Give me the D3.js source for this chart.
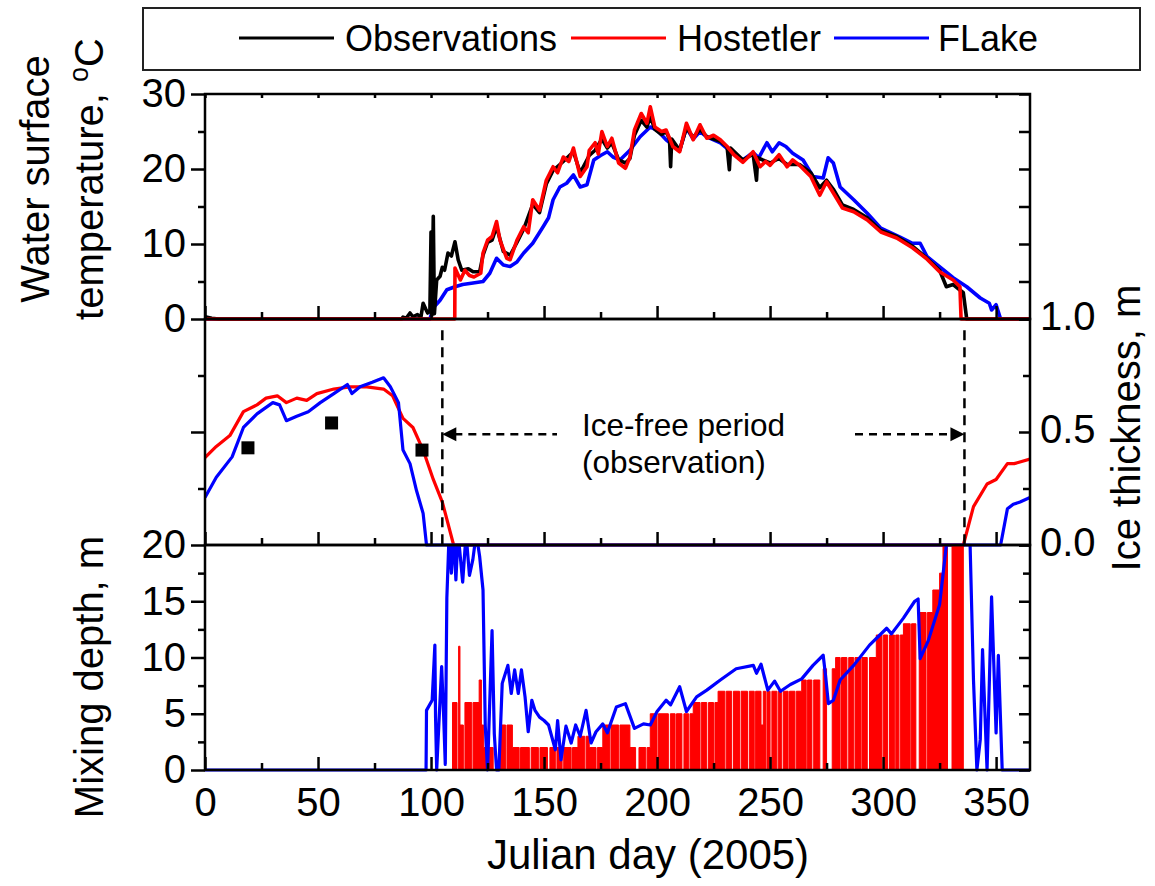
<!DOCTYPE html>
<html>
<head>
<meta charset="utf-8">
<script src="https://cdn.jsdelivr.net/npm/d3@7"></script>
<style>
  body { margin: 0; background: #fff; }
  svg text { font-family: "Liberation Sans", Arial, Helvetica, sans-serif; fill: #000; }
</style>
</head>
<body>
<svg id="chart" width="1155" height="886"></svg>
<script>
// ---- data: [julian day, value] ----
const seriesNames = ["Observations", "Hostetler", "FLake"];
const seriesColors = ["#000000", "#ff0000", "#0000ff"];

// water surface temperature, degC
const obsTemp = [[0,0.3],[3,0.1],[6,0],[87,0],[87.6,0.25],[89,0.1],[90.7,0.8],[92,0.3],[94,0.6],[95.5,0.2],
  [96.5,2.1],[97.7,1.3],[98.5,0.8],[99.5,1.0],[100,11.6],[100.4,0.5],[101,13.7],[101.5,0.7],[102.5,5.2],
  [104,5.7],[105,6.9],[106,6.5],[107.5,8.8],[109,8.4],[110.6,10.3],[112,7.9],[113.6,6.5],[116.5,6.7],
  [118.6,6.3],[121.5,6.3],[123,8.5],[125,10.2],[127,10.5],[129,12.3],[132,9],[135,8.5],[138,10.2],
  [141,12],[145,15.3],[148,14.2],[151,18],[154,19.8],[158.5,21],[163,22.3],[166,19.5],[170,21.8],
  [172.6,22.5],[175.6,24],[178,22.8],[180,23.5],[183,21.2],[186,20.8],[188,21.4],[190,24.5],[193,26.5],
  [195.5,25.6],[197,27],[199,25.3],[202,24.6],[204,25],[205.5,24],[206,20.3],[206.5,24],[210,22.5],
  [213,25.5],[216,24.2],[219,25.3],[222,24.3],[228,23.7],[231,22.9],[232,19.9],[232.5,22.8],[238,21.2],
  [242.5,22],[244,18.5],[244.5,21.5],[250,20.8],[254,21.4],[257.5,20.6],[263,20.6],[268,19.5],[272,17.5],
  [275,18.5],[278,17.3],[282,15.2],[287,14.6],[293,13.5],[299,11.8],[306,11],[313,9.7],[319,8.2],
  [325,6.5],[328,4.3],[331,4.6],[335.5,3.5],[337,0],[365,0]];

const hostTemp = [[0,0],[110.5,0],[110.6,6.8],[113,5.2],[115,6.5],[117,5.8],[119,5.6],[122,6.1],[123,8.8],
  [125,10.5],[127,11],[129,13],[130.5,10.5],[133.5,8.1],[135,7.9],[138,10.5],[141,12.3],[143,11.5],
  [145,15.9],[148,14.5],[151,18.5],[154,20.3],[156,19.5],[158.5,21.6],[161,21],[163,22.8],[166,19],
  [169,20.3],[170,22.5],[172.6,23.5],[174,22],[175.6,25],[178,23],[180,24.1],[183,20.8],[186,20.1],
  [188,21.6],[190,25.2],[193,27.4],[195.5,26.1],[197,28.3],[199,25.6],[202,25],[204,25.2],[207,23],
  [210,22.3],[213,26.1],[216,23.9],[219,25.9],[222,24.1],[225,24.5],[228,23.9],[231,23],[234,21.9],
  [238,20.9],[240,21.5],[242.5,22.3],[245.6,20.3],[248,21],[250,20.5],[254,21.9],[257.5,20.3],[260,21.2],
  [263,20.5],[268,19],[272,16.5],[275,18.3],[278,16.8],[282,14.8],[287,14.3],[293,13.2],[299,11.6],
  [306,10.8],[313,9.5],[319,8.1],[325,6.3],[331,5.2],[334,4.3],[334.5,0],[365,0]];

const flakeTemp = [[0,0],[99.5,0],[101,1.5],[104,2.5],[107,3.9],[110.6,4.3],[114,4.6],[118.6,4.8],[123,5],
  [126,6.1],[129,8.1],[132,7.2],[135,7],[138,7.6],[141,8.8],[145,10.1],[149.6,12.3],[152,13.5],[154,15.9],
  [157,17.6],[160,18.1],[163,19.2],[166,17.6],[169,17.9],[172,21.2],[175,21.8],[178,22.3],[180.5,21.6],
  [183.6,21.2],[188,22.5],[192.5,24.3],[197,25.6],[200,25.2],[204,23.9],[207,23.2],[210,22.5],[213,25.5],
  [216,24],[219,25],[222,24.3],[228,23.5],[234,22],[238,21.2],[242.5,22.2],[245,21.5],[248.6,23.5],
  [251,22.3],[254,23.5],[257,23],[260,22.1],[264.6,21.2],[269,19],[273.5,18.8],[275.7,21.5],[278,20.8],
  [281,17.6],[287,15.9],[293,14.1],[299,12.1],[307.5,10.9],[313,10.1],[316.4,10.1],[319.5,8.3],[324,7.2],
  [331,5.5],[337,4.3],[343,2.8],[347,2.1],[348,1.2],[350,1.9],[352,0],[365,0]];

// ice thickness, m
const hostIce = [[0,0.387],[5,0.436],[11,0.484],[17,0.59],[23,0.62],[27,0.65],[32,0.66],[36,0.63],[40.6,0.65],
  [45,0.64],[49.5,0.67],[57,0.69],[64,0.70],[71.6,0.70],[79,0.69],[83,0.66],[87.6,0.56],[92,0.52],
  [96.5,0.42],[101,0.29],[105,0.19],[110,0],[335.5,0],[340,0.17],[346,0.27],[350,0.29],[355,0.36],
  [358,0.36],[365,0.38]];
const flakeIce = [[0,0.21],[5,0.30],[12,0.39],[17,0.52],[23,0.58],[30,0.63],[33,0.62],[36,0.55],[40.6,0.57],
  [45.7,0.59],[51,0.63],[57,0.67],[63,0.71],[65,0.67],[68.6,0.70],[74,0.72],[79,0.74],[82,0.70],[85.6,0.63],
  [87.6,0.42],[90.7,0.36],[93.6,0.24],[96.5,0.14],[98,0],[352,0],[355,0.16],[357.6,0.18],[360.6,0.19],
  [365,0.21]];
const obsIce = [[19,0.43],[56,0.54],[96,0.42]];

// observed ice-free period (days)
const iceOffDay = 105;
const iceOnDay = 336;

// mixing depth, m (Hostetler: step levels from each day on, 0 = short breaks)
const hostMix = [[0,0],[109.5,6],[111.5,0],[112.2,11],[112.8,4],[114.3,0],[115,6],[118,0],[118.6,6],
  [121.3,8],[122.3,4],[123.3,2],[125,0],[125.7,2],[127.5,0],[130.5,4],[133,0],[133.6,4],[136,2],[139,0],
  [139.6,2],[143.5,0],[144.3,2],[147.5,0],[148.2,2],[151.5,0],[152.6,2],[155,0],[155.7,2],[158,0],
  [158.7,2],[162,0],[162.6,2],[165,3],[168,0],[168.6,3],[170,2],[173,0],[173.6,2],[176,4],[179,0],
  [179.6,4],[183,0],[183.6,4],[188,2],[190.5,0],[192,2],[195,0],[195.6,2],[197,5],[200,0],[200.6,5],
  [205,0],[205.9,5],[208,0],[208.6,5],[211,0],[211.9,5],[214,0],[214.6,5],[216,6],[219,0],[219.6,6],
  [222,0],[222.8,6],[225,0],[225.6,6],[227,7],[230,0],[230.6,7],[233,0],[233.8,7],[236.5,0],[237.2,7],
  [240,0],[240.8,7],[243,0],[243.6,7],[246,4],[247,7],[248,0],[248.6,7],[250,0],[250.8,7],[253,0],
  [253.6,7],[255,0],[255.8,7],[258,0],[258.6,7],[261,0],[261.6,7],[264,8],[266,0],[266.6,8],[268.5,0],
  [269.3,8],[272,0],[273.5,9],[275,0],[277.5,9],[279,10],[281,0],[281.6,10],[284,0],[284.8,10],[287,0],
  [287.6,10],[290,0],[290.6,10],[293,0],[294,10],[297,12],[299.5,0],[300.1,12],[302,0],[302.8,12],
  [305,0],[305.6,12],[307,0],[307.6,12],[309,13],[312,0],[312.6,13],[314.5,0],[316,14],[319,0],
  [319.6,14],[322,16],[325,17.5],[326.5,25],[328.5,0],[330.5,25],[335.5,0],[365,0]];

const flakeMix = [[0,0],[97.8,0],[98,5.3],[100.5,6.2],[101.7,11.1],[102,4.7],[102.5,0],[104.7,9.2],
  [105.6,4.7],[106.3,0.5],[107,15.3],[108,21],[109,17.5],[110,21],[111,16.9],[112,21],[114,16.7],
  [115.5,21],[117,17.3],[118.5,18.7],[120,21],[121.5,19],[123,16],[124,3.9],[125,0],[127,12.4],[128,3.2],
  [129,0],[130,0],[131.5,7.7],[134,9.3],[135.5,6.8],[137,8.9],[138.6,6.8],[140,8.9],[141.6,6.5],[143,3.4],
  [144.6,6.2],[146,5.3],[148,4.7],[150,4.4],[152,4],[155,1.8],[156,4.4],[157.5,0.9],[159.7,3.9],[162,2.4],
  [164,4],[166,3],[168.6,5.3],[170.8,2.4],[173,3.4],[176,4.1],[178,3.3],[182,5.6],[186,5.9],[190,3.7],
  [194,4.1],[197,4.0],[200,5.2],[204,6.2],[206,5.8],[210,7.4],[213,5.2],[217.5,6.5],[222,7.1],[228,8],
  [235,9],[242.6,9.3],[244,8.6],[246,9.4],[249,7.1],[252,7.9],[254.6,7],[259,7.6],[264,8.1],[269,9.3],
  [273.5,10.2],[274.6,8.3],[275.8,5.9],[278,6.2],[281,8],[287,9.3],[294,11.1],[301.6,12.6],[303.7,12.1],
  [309,13.5],[314,15],[315.5,15.2],[316.4,9.9],[320,11.5],[325,14.7],[328,20],[332,25],[338.5,20],[340,8],
  [341.5,0],[343,2.7],[344,10.7],[346,0],[348,15.4],[350,3.3],[351,10.2],[352.7,0],[365,0]];

// tick values
const dayMajor = [0, 50, 100, 150, 200, 250, 300, 350];
const dayMinor = [25, 75, 125, 175, 225, 275, 325];
const tempMajor = [0, 10, 20, 30];
const tempMinor = [5, 15, 25];
const iceMajor = [0, 0.5, 1.0];
const iceMinor = [0.25, 0.75];
const mixMajor = [0, 5, 10, 15, 20];
const mixMinor = [2.5, 7.5, 12.5, 17.5];

// ---- layout ----
const svg = d3.select("#chart");
const x = d3.scaleLinear().domain([0, 365]).range([205, 1030]);
const yTemp = d3.scaleLinear().domain([0, 30]).range([319, 94]);
const yIce = d3.scaleLinear().domain([0, 1]).range([545, 319]);
const yMix = d3.scaleLinear().domain([0, 20]).range([770, 545]);
const x0 = x.range()[0], x1 = x.range()[1];

// clip regions per panel
const defs = svg.append("defs");
[["clipTop", yTemp], ["clipMid", yIce], ["clipBot", yMix]].forEach(([id, sc]) => {
  defs.append("clipPath").attr("id", id).append("rect")
    .attr("x", x0).attr("y", sc.range()[1])
    .attr("width", x1 - x0).attr("height", sc.range()[0] - sc.range()[1] + 2);
});

function line(sc) {
  return d3.line().x(d => x(d[0])).y(d => sc(d[1]));
}

// ---- top panel: temperature ----
const gTop = svg.append("g").attr("clip-path", "url(#clipTop)");
[[flakeTemp, 2], [obsTemp, 0], [hostTemp, 1]].forEach(([data, i]) => {
  gTop.append("path").datum(data).attr("d", line(yTemp))
    .attr("fill", "none").attr("stroke", seriesColors[i]).attr("stroke-width", 3.6)
    .attr("stroke-linejoin", "round");
});

// ---- middle panel: ice thickness ----
const gMid = svg.append("g").attr("clip-path", "url(#clipMid)");
[[hostIce, 1], [flakeIce, 2]].forEach(([data, i]) => {
  gMid.append("path").datum(data).attr("d", line(yIce))
    .attr("fill", "none").attr("stroke", seriesColors[i]).attr("stroke-width", 3.2)
    .attr("stroke-linejoin", "round");
});
gMid.selectAll("rect.obs").data(obsIce).enter().append("rect")
  .attr("class", "obs")
  .attr("x", d => x(d[0]) - 6.5).attr("y", d => yIce(d[1]) - 6.5)
  .attr("width", 13).attr("height", 13).attr("fill", "#000");

// ---- bottom panel: mixing depth ----
const gBot = svg.append("g").attr("clip-path", "url(#clipBot)");
gBot.append("path").datum(hostMix)
  .attr("d", d3.area().curve(d3.curveStepAfter).x(d => x(d[0])).y0(yMix(0)).y1(d => yMix(d[1])))
  .attr("fill", seriesColors[1]);
gBot.append("path").datum(hostMix)
  .attr("d", d3.line().curve(d3.curveStepAfter).x(d => x(d[0])).y(d => yMix(d[1])))
  .attr("fill", "none").attr("stroke", seriesColors[1]).attr("stroke-width", 1);
gBot.append("path").datum(flakeMix).attr("d", line(yMix))
  .attr("fill", "none").attr("stroke", seriesColors[2]).attr("stroke-width", 3.2)
  .attr("stroke-linejoin", "round");

// ---- frames ----
[yTemp, yIce, yMix].forEach(sc => {
  svg.append("rect").attr("x", x0).attr("y", sc.range()[1])
    .attr("width", x1 - x0).attr("height", sc.range()[0] - sc.range()[1])
    .attr("fill", "none").attr("stroke", "#000").attr("stroke-width", 2.5);
});

// ---- ticks ----
function tickSet(axisFn, scale, values, size, translate, labels, fmt) {
  const ax = axisFn(scale).tickValues(values).tickSizeInner(size).tickSizeOuter(0);
  ax.tickFormat(labels ? (fmt || d3.format("d")) : "");
  const g = svg.append("g").attr("transform", translate).call(ax);
  g.select(".domain").remove();
  g.selectAll("line").attr("stroke", "#000").attr("stroke-width", 2.5);
  g.attr("font-family", null).attr("font-size", null);
  g.selectAll("text").style("font-size", "40px");
  return g;
}

// x ticks
tickSet(d3.axisTop, x, dayMajor.concat(dayMinor), -4, `translate(0,${yTemp(30)})`, false);
[yTemp(0), yIce(0)].forEach(yy => {
  tickSet(d3.axisBottom, x, dayMajor, -13, `translate(0,${yy})`, false);
  tickSet(d3.axisBottom, x, dayMinor, -7, `translate(0,${yy})`, false);
});
tickSet(d3.axisBottom, x, dayMajor, -13, `translate(0,${yMix(0)})`, true).call(ax => ax.selectAll("text").attr("y", 18));
tickSet(d3.axisBottom, x, dayMinor, -7, `translate(0,${yMix(0)})`, false);

// left ticks (outward)
tickSet(d3.axisLeft, yTemp, tempMajor, 14, `translate(${x0},0)`, true).selectAll("text").attr("x", -19);
tickSet(d3.axisLeft, yTemp, tempMinor, 7, `translate(${x0},0)`, false);
tickSet(d3.axisLeft, yIce, [0.5], 14, `translate(${x0},0)`, false);
tickSet(d3.axisLeft, yIce, iceMinor, 7, `translate(${x0},0)`, false);
tickSet(d3.axisLeft, yMix, mixMajor, 14, `translate(${x0},0)`, true).selectAll("text").attr("x", -19);
tickSet(d3.axisLeft, yMix, mixMinor, 7, `translate(${x0},0)`, false);

// right ticks (inward)
tickSet(d3.axisRight, yTemp, tempMajor.concat(tempMinor), -11, `translate(${x1},0)`, false);
tickSet(d3.axisRight, yIce, iceMajor, -11, `translate(${x1},0)`, true, d3.format(".1f"))
  .selectAll("text").attr("x", 10).attr("dy", "0.25em");
tickSet(d3.axisRight, yIce, iceMinor, -7, `translate(${x1},0)`, false);
tickSet(d3.axisRight, yMix, mixMajor, -11, `translate(${x1},0)`, false);
tickSet(d3.axisRight, yMix, mixMinor, -7, `translate(${x1},0)`, false);

// ---- axis titles ----
function vTitle(tx, ty, str) {
  return svg.append("text").attr("transform", `translate(${tx},${ty}) rotate(-90)`)
    .attr("text-anchor", "middle").style("font-size", "40px").text(str);
}
vTitle(49, 179, "Water surface");
const tt = svg.append("text").attr("transform", "translate(103,179) rotate(-90)")
  .attr("text-anchor", "middle").style("font-size", "40px");
tt.append("tspan").text("temperature, ");
tt.append("tspan").attr("dy", -15).style("font-size", "27px").text("o");
tt.append("tspan").attr("dy", 15).text("C");
vTitle(103, 677, "Mixing depth, m");
vTitle(1140, 428, "Ice thickness, m");
svg.append("text").attr("x", 648).attr("y", 869).attr("text-anchor", "middle")
  .style("font-size", "42px").text("Julian day (2005)");

// ---- ice-free period annotation ----
const ann = svg.append("g").attr("stroke", "#000").attr("stroke-width", 2.5);
[iceOffDay, iceOnDay].forEach(d => {
  ann.append("line").attr("x1", x(d)).attr("x2", x(d))
    .attr("y1", yIce(0.95)).attr("y2", yIce(0)).attr("stroke-dasharray", "10,7");
});
const arrowY = yIce(0.49);
ann.append("line").attr("x1", x(iceOffDay) + 12).attr("x2", 557)
  .attr("y1", arrowY).attr("y2", arrowY).attr("stroke-dasharray", "8,6");
ann.append("line").attr("x1", 855).attr("x2", x(iceOnDay) - 12)
  .attr("y1", arrowY).attr("y2", arrowY).attr("stroke-dasharray", "8,6");
svg.append("path").attr("fill", "#000")
  .attr("d", `M${x(iceOffDay)},${arrowY} l14,-7 l0,14 Z`);
svg.append("path").attr("fill", "#000")
  .attr("d", `M${x(iceOnDay)},${arrowY} l-14,-7 l0,14 Z`);
svg.append("text").attr("x", 582).attr("y", 436).style("font-size", "31.5px").text("Ice-free period");
svg.append("text").attr("x", 582).attr("y", 473).style("font-size", "31.5px").text("(observation)");

// ---- legend ----
svg.append("rect").attr("x", 143).attr("y", 8).attr("width", 997).attr("height", 62)
  .attr("fill", "#fff").attr("stroke", "#222").attr("stroke-width", 2);
const legendX = [[239, 345], [571, 677], [834, 938]];
seriesNames.forEach((name, i) => {
  svg.append("line").attr("x1", legendX[i][0]).attr("x2", legendX[i][0] + 95)
    .attr("y1", 38).attr("y2", 38).attr("stroke", seriesColors[i]).attr("stroke-width", 3);
  svg.append("text").attr("x", legendX[i][1]).attr("y", 51).style("font-size", "36px").text(name);
});
</script>
</body>
</html>
